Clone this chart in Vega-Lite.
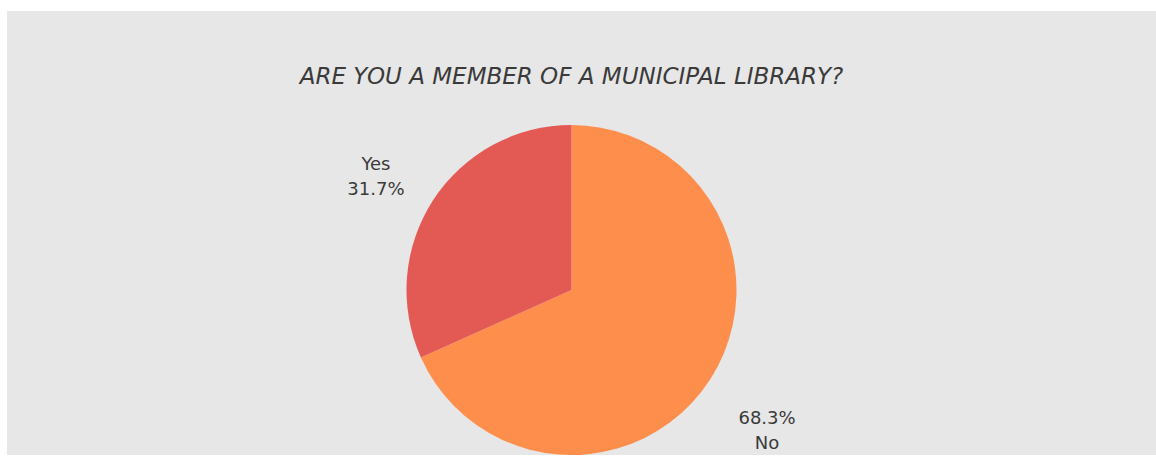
{
  "$schema": "https://vega.github.io/schema/vega-lite/v6.json",
  "width": 1156,
  "height": 458,
  "autosize": {"type": "fit", "contains": "padding"},
  "padding": {"left": 7, "top": 11, "right": 0, "bottom": 3},
  "background": "white",
  "title": {
    "text": "ARE YOU A MEMBER OF A MUNICIPAL LIBRARY?",
    "font": "DejaVu Sans",
    "fontStyle": "italic",
    "fontWeight": "normal",
    "fontSize": 23,
    "color": "#3a3a3a",
    "anchor": "middle",
    "offset": -78,
    "dx": -10
  },
  "config": {"view": {"stroke": null}},
  "data": {
    "values": [
      {"answer": "No", "share": 68.3, "label": "68.3%\nNo"},
      {"answer": "Yes", "share": 31.7, "label": "Yes\n31.7%"}
    ]
  },
  "layer": [
    {
      "data": {"values": [{"panel": "background"}]},
      "mark": {"type": "rect", "color": "#e7e7e7"},
      "encoding": {}
    },
    {
      "mark": {"type": "arc", "outerRadius": 165, "xOffset": -10, "yOffset": 57},
      "encoding": {
        "theta": {"field": "share", "type": "quantitative", "stack": true},
        "color": {
          "field": "answer",
          "type": "nominal",
          "scale": {"domain": ["No", "Yes"], "range": ["#fe8e4b", "#e35a55"]},
          "legend": null
        }
      }
    },
    {
      "mark": {
        "type": "text",
        "radius": 233,
        "xOffset": -10,
        "yOffset": 59,
        "lineBreak": "\n",
        "lineHeight": 25,
        "font": "DejaVu Sans",
        "fontSize": 18,
        "align": "center",
        "baseline": "middle"
      },
      "encoding": {
        "theta": {"field": "share", "type": "quantitative", "stack": true},
        "order": {"field": "answer", "type": "nominal"},
        "text": {"field": "label"},
        "color": {"value": "#3a3a3a"}
      }
    }
  ]
}
